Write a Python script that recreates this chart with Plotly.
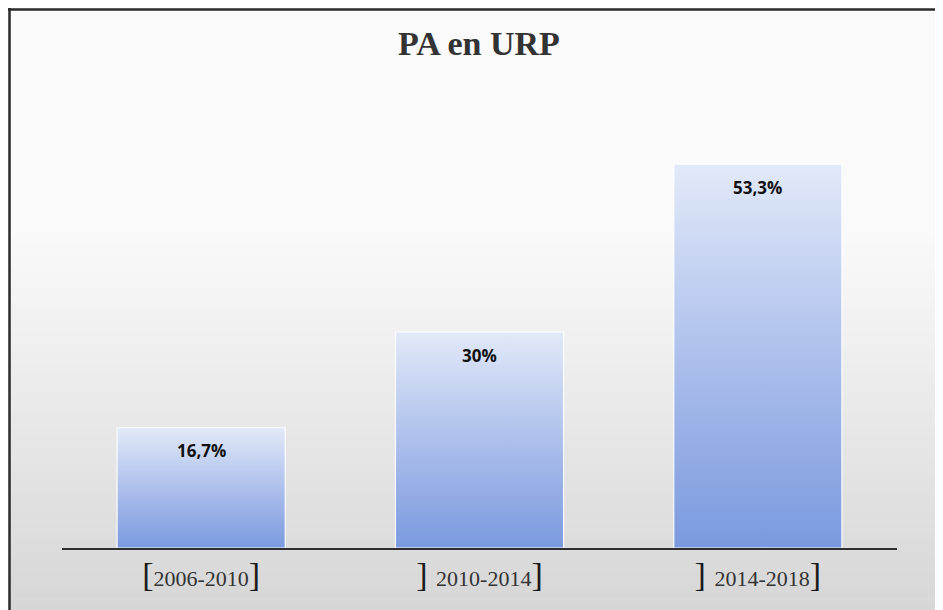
import plotly.graph_objects as go

# ---- data ----
categories = ["2006-2010", "2010-2014", "2014-2018"]
left_brackets = ["[", "] ", "] "]
right_brackets = ["]", "]", "]"]
values = [16.7, 30.0, 53.3]
value_labels = ["16,7%", "30%", "53,3%"]
title_text = "PA en URP"

# ---- geometry helpers ----
# the page body has an 8px margin, so the figure starts at (8, 8) in the window
OFF = 8
W, H = 943 - OFF, 610 - OFF
# plot area in window pixels: x 62..897, y 116..548
ML, MR, MT, MB = 62 - OFF, 943 - 897, 116 - OFF, 610 - 548
PW, PH = W - ML - MR, H - MT - MB

def px_to_paper_x(px):
    return (px - OFF - ML) / PW

def py_to_paper_y(py):
    return (H - MB - (py - OFF)) / PH

BAR_HALF = 0.302

fig = go.Figure()

# bars drawn as filled polygons (to get a vertical gradient fill)
for i, v in enumerate(values):
    fig.add_trace(go.Scatter(
        x=[i - BAR_HALF, i - BAR_HALF, i + BAR_HALF, i + BAR_HALF, i - BAR_HALF],
        y=[0, v, v, 0, 0],
        mode="lines",
        fill="toself",
        line=dict(color="rgba(255,255,255,0.9)", width=1.2),
        fillgradient=dict(
            type="vertical",
            colorscale=[[0, "#7a99de"], [0.5, "#adc0ec"], [1, "#e2e9f8"]],
        ),
        hoverinfo="skip",
        showlegend=False,
    ))

# data labels
for i, (v, t) in enumerate(zip(values, value_labels)):
    fig.add_annotation(
        x=i, y=v, xref="x", yref="y",
        text="<b>" + t + "</b>",
        showarrow=False,
        yanchor="middle",
        yshift=-23,
        font=dict(family="Open Sans, sans-serif", size=17, color="#111111"),
    )

# tick labels with large brackets
ticktext = [
    '<span style="font-size:34px;fill:#1a1a1a">%s</span>%s<span style="font-size:34px;fill:#1a1a1a">%s</span>' % (lb, c, rb)
    for lb, c, rb in zip(left_brackets, categories, right_brackets)
]

# background gradient (white at top -> light grey at bottom)
shapes = []
top_py, grad_start, bottom_py = 9, 230, 612
shapes.append(dict(
    type="rect", xref="paper", yref="paper", layer="below",
    x0=px_to_paper_x(9), x1=px_to_paper_x(946),
    y0=py_to_paper_y(top_py), y1=py_to_paper_y(grad_start),
    fillcolor="#fafafa", line=dict(width=0),
))
n = 60
c0, c1 = 250, 214
for k in range(n):
    a = grad_start + (bottom_py - grad_start) * k / n
    b = grad_start + (bottom_py - grad_start) * (k + 1) / n
    g = round(c0 + (c1 - c0) * (k + 0.5) / n)
    shapes.append(dict(
        type="rect", xref="paper", yref="paper", layer="below",
        x0=px_to_paper_x(9), x1=px_to_paper_x(946),
        y0=py_to_paper_y(a), y1=py_to_paper_y(b + 0.6),
        fillcolor="rgb(%d,%d,%d)" % (g, g, g), line=dict(width=0),
    ))
# frame (left and top edges)
shapes.append(dict(type="line", xref="paper", yref="paper",
                   x0=px_to_paper_x(9.5), x1=px_to_paper_x(9.5),
                   y0=py_to_paper_y(8), y1=py_to_paper_y(615),
                   line=dict(color="#2a2a2a", width=2.5)))
shapes.append(dict(type="line", xref="paper", yref="paper",
                   x0=px_to_paper_x(8), x1=px_to_paper_x(948),
                   y0=py_to_paper_y(9.5), y1=py_to_paper_y(9.5),
                   line=dict(color="#2a2a2a", width=2.5)))

fig.update_layout(
    width=W, height=H,
    margin=dict(l=ML, r=MR, t=MT, b=MB, autoexpand=False),
    paper_bgcolor="#ffffff",
    plot_bgcolor="rgba(0,0,0,0)",
    shapes=shapes,
    title=dict(
        text="<b>" + title_text + "</b>",
        x=px_to_paper_x(479), xref="paper", xanchor="center",
        y=1 - (43 - OFF) / H, yref="container", yanchor="middle",
        font=dict(family="Liberation Serif, Times New Roman, serif", size=34, color="#333333"),
    ),
    xaxis=dict(
        range=[-0.5, 2.5],
        tickvals=list(range(len(categories))),
        ticktext=ticktext,
        showgrid=False, zeroline=False,
        showline=True, linecolor="#2e2e2e", linewidth=2,
        ticks="", ticklabelstandoff=10,
        tickfont=dict(family="Liberation Serif, Times New Roman, serif", size=22, color="#333333"),
        fixedrange=True,
    ),
    yaxis=dict(
        range=[0, 60],
        visible=False,
        showgrid=False, zeroline=False,
        fixedrange=True,
    ),
    showlegend=False,
)

fig.write_html("out.html")
